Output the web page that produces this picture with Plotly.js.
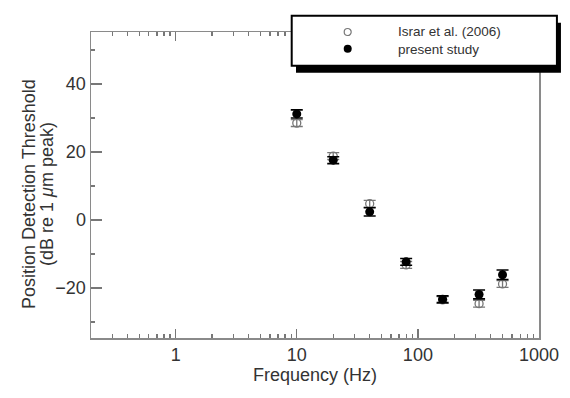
<!DOCTYPE html>
<html>
<head>
<meta charset="utf-8">
<script src="https://cdn.plot.ly/plotly-3.0.1.min.js"></script>
<style>html,body{margin:0;padding:0;background:#fff;}</style>
</head>
<body>
<div id="chart" style="width:570px;height:398px;"></div>
<script>
// Data
var frequencies = [10, 20, 40, 80, 160, 320, 500];
var presentStudy = [31.2, 17.6, 2.4, -12.3, -23.3, -21.9, -16.1];
var presentErr = [1.2, 1.0, 1.2, 1.0, 1.0, 1.3, 1.4];
var israr2006 = [28.5, 18.8, 4.8, -13.2, -23.5, -24.6, -18.8];
var israrErr = [1.0, 1.0, 1.0, 1.0, 1.0, 1.0, 1.0];
var seriesNames = ['Israr et al. (2006)', 'present study'];

var yTickVals = [-20, 0, 20, 40];
var yTitleLines = ['Position Detection Threshold', '(dB re 1 <i>μ</i>m peak)'];

var FONT = 'Arial, "Liberation Sans", sans-serif';
var AXC = '#777';
var TXT = '#333';

var traces = [
  {
    x: frequencies, y: israr2006, name: seriesNames[0], type: 'scatter', mode: 'markers',
    showlegend: false,
    marker: {symbol: 'circle-open', size: 8, color: '#777', line: {width: 1.3, color: '#777'}},
    error_y: {type: 'data', array: israrErr, visible: true, color: '#777', thickness: 1.3, width: 6}
  },
  {
    x: frequencies, y: presentStudy, name: seriesNames[1], type: 'scatter', mode: 'markers',
    showlegend: false,
    marker: {symbol: 'circle', size: 9, color: '#000'},
    error_y: {type: 'data', array: presentErr, visible: true, color: '#000', thickness: 1.6, width: 6}
  }
];

var layout = {
  width: 570, height: 398,
  margin: {l: 91, r: 31, t: 32, b: 60},
  paper_bgcolor: '#fff', plot_bgcolor: '#fff',
  font: {family: FONT, size: 18, color: TXT},
  showlegend: false,
  xaxis: {
    type: 'log', range: [Math.log10(0.2), 3], autorange: false,
    tickmode: 'linear', tick0: 0, dtick: 1,
    ticks: 'inside', ticklen: 9, tickwidth: 1.3, tickcolor: AXC,
    minor: {dtick: 'D1', ticks: 'inside', ticklen: 4, tickwidth: 1.3, tickcolor: AXC, showgrid: false},
    showline: true, linecolor: '#8a8a8a', linewidth: 1.5, mirror: 'ticks',
    showgrid: false, zeroline: false,
    tickfont: {size: 18, color: TXT},
    title: {text: 'Frequency (Hz)', font: {size: 18, color: TXT}, standoff: 0}
  },
  yaxis: {
    range: [-34.7, 55.3], autorange: false,
    tickmode: 'array', tickvals: yTickVals,
    ticks: 'inside', ticklen: 11, tickwidth: 1.3, tickcolor: AXC,
    minor: {dtick: 10, tick0: 0, ticks: 'inside', ticklen: 4, tickwidth: 1.3, tickcolor: AXC, showgrid: false},
    showline: true, linecolor: '#8a8a8a', linewidth: 1.5, mirror: true,
    showgrid: false, zeroline: false,
    tickfont: {size: 18, color: TXT},
    ticklabelstandoff: 0
  },
  shapes: [
    // legend shadow
    {type: 'rect', xref: 'paper', yref: 'paper', x0: 0.4576, x1: 1.049, y0: 0.867, y1: 1.03,
     fillcolor: '#000', line: {width: 0}, layer: 'above'},
    // legend box
    {type: 'rect', xref: 'paper', yref: 'paper', x0: 0.448, x1: 1.040, y0: 0.890, y1: 1.053,
     fillcolor: '#fff', line: {width: 2, color: '#000'}, layer: 'above'},
    // legend symbols
    {type: 'circle', xref: 'paper', yref: 'paper', xsizemode: 'pixel', ysizemode: 'pixel',
     xanchor: 0.573, yanchor: 1.000, x0: -3.5, x1: 3.5, y0: -3.5, y1: 3.5,
     fillcolor: '#fff', line: {width: 1.2, color: '#777'}, layer: 'above'},
    {type: 'circle', xref: 'paper', yref: 'paper', xsizemode: 'pixel', ysizemode: 'pixel',
     xanchor: 0.573, yanchor: 0.945, x0: -4, x1: 4, y0: -4, y1: 4,
     fillcolor: '#000', line: {width: 0}, layer: 'above'}
  ],
  annotations: [
    {xref: 'paper', yref: 'paper', x: 0.681, y: 0.9725, xanchor: 'left', yanchor: 'middle', align: 'left',
     text: seriesNames[0] + '<br>' + seriesNames[1], showarrow: false, font: {size: 13.5, color: TXT}},
    // y-axis title (two lines, set tight like the reference)
    {xref: 'paper', yref: 'paper', x: -0.1384, y: 0.4706, xanchor: 'center', yanchor: 'middle',
     textangle: -90, text: yTitleLines[0], showarrow: false, font: {size: 18, color: TXT}},
    {xref: 'paper', yref: 'paper', x: -0.0982, y: 0.4706, xanchor: 'center', yanchor: 'middle',
     textangle: -90, text: yTitleLines[1], showarrow: false, font: {size: 18, color: TXT}}
  ]
};

Plotly.newPlot('chart', traces, layout, {displayModeBar: false, staticPlot: true});
</script>
</body>
</html>
